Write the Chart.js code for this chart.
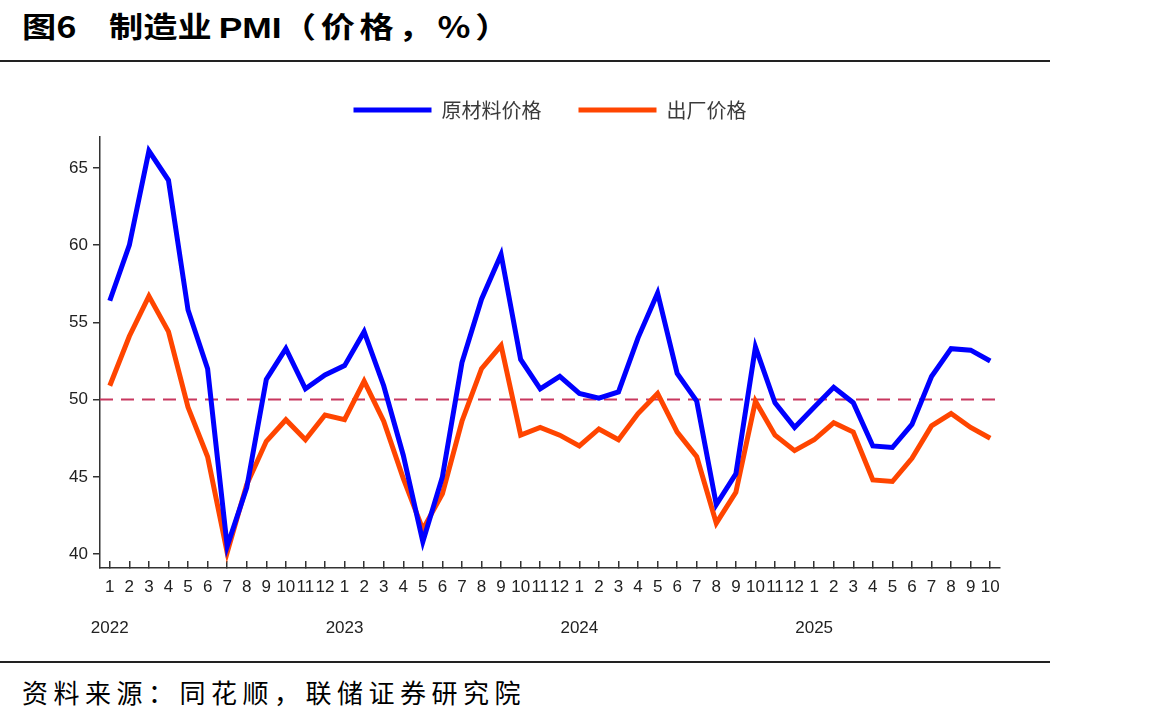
<!DOCTYPE html>
<html>
<head>
<meta charset="utf-8">
<script src="https://cdn.jsdelivr.net/npm/chart.js@4.4.0/dist/chart.umd.min.js"></script>
<style>
  body { margin: 0; background: #fff; width: 1170px; height: 724px; position: relative; overflow: hidden; font-family: "Noto Sans CJK SC", sans-serif; }
  .title { position: absolute; top: 4px; font-size: 29px; line-height: 42px; font-weight: bold; color: #000; white-space: pre; transform: scaleX(1.18); transform-origin: left center; }
  .title .sp { letter-spacing: 4px; }
  .title .pmi { font-family: "Liberation Sans", Arial, sans-serif; font-size: 30px; margin-left: 6px; }
  .rule { position: absolute; left: 0; width: 1050px; height: 2px; background: #222; }
  #src { position: absolute; left: 22px; top: 673px; font-size: 26px; letter-spacing: 5.5px; color: #000; }
  #wrap { position: absolute; left: 0; top: 63px; width: 1050px; height: 598px; }
</style>
</head>
<body>
<div class="title" style="left:22px">图6</div>
<div class="title" style="left:109px"><span>制造业</span><span class="pmi">PMI</span><span class="sp">（价格，%）</span></div>
<div class="rule" style="top:60px"></div>
<div id="wrap"><canvas id="pmiChart"></canvas></div>
<div class="rule" style="top:661px"></div>
<div id="src">资料来源：同花顺，联储证券研究院</div>
<script>
//data
const monthTicks = [
  '1','2','3','4','5','6','7','8','9','10','11','12',
  '1','2','3','4','5','6','7','8','9','10','11','12',
  '1','2','3','4','5','6','7','8','9','10','11','12',
  '1','2','3','4','5','6','7','8','9','10'
];
const yearTicks = ['2022', '2023', '2024', '2025'];
const rawMaterial = [
  56.4, 60.0, 66.1, 64.2, 55.8, 52.0, 40.5, 44.3, 51.3, 53.3, 50.7, 51.6,
  52.2, 54.4, 50.9, 46.4, 40.8, 45.0, 52.4, 56.5, 59.4, 52.6, 50.7, 51.5,
  50.4, 50.1, 50.5, 54.0, 56.9, 51.7, 49.9, 43.2, 45.2, 53.4, 49.8, 48.2,
  49.5, 50.8, 49.8, 47.0, 46.9, 48.4, 51.5, 53.3, 53.2, 52.5
];
const outputPrice = [
  50.9, 54.1, 56.7, 54.4, 49.5, 46.3, 40.1, 44.5, 47.3, 48.7, 47.4, 49.0,
  48.7, 51.2, 48.6, 44.9, 41.6, 43.9, 48.6, 52.0, 53.5, 47.7, 48.2, 47.7,
  47.0, 48.1, 47.4, 49.1, 50.4, 47.9, 46.3, 42.0, 44.0, 49.9, 47.7, 46.7,
  47.4, 48.5, 47.9, 44.8, 44.7, 46.2, 48.3, 49.1, 48.2, 47.5
];
const yTicks = [40, 45, 50, 55, 60, 65];
const refLine = 50;

//colors
var blue = '#0000ff';
var orange = '#ff4500';
var axisGrey = '#333333';

// month on first line, year two lines below under each January
let yearIdx = 0;
const labels = monthTicks.map(function (m) {
  if (m === '1') return ['1', '', yearTicks[yearIdx++]];
  return [m];
});

const legendHeight = {
  id: 'legendHeight',
  beforeInit(chart) {
    const fit = chart.legend.fit;
    chart.legend.fit = function () {
      fit.bind(chart.legend)();
      this.height = 74;
    };
  }
};

const dashLine = {
  id: 'dashLine',
  beforeDatasetsDraw(chart) {
    const ctx = chart.ctx, area = chart.chartArea;
    const y = chart.scales.y.getPixelForValue(refLine);
    ctx.save();
    ctx.strokeStyle = '#c8375f';
    ctx.lineWidth = 2;
    ctx.setLineDash([13, 8]);
    ctx.beginPath();
    ctx.moveTo(area.left, y);
    ctx.lineTo(area.right + 3, y);
    ctx.stroke();
    ctx.restore();
  }
};

new Chart(document.getElementById('pmiChart'), {
  type: 'line',
  data: {
    labels: labels,
    datasets: [{
      label: '原材料价格',
      data: rawMaterial,
      borderColor: blue,
      backgroundColor: blue,
      borderWidth: 5,
      pointRadius: 0,
      tension: 0
    }, {
      label: '出厂价格',
      data: outputPrice,
      borderColor: orange,
      backgroundColor: orange,
      borderWidth: 5,
      pointRadius: 0,
      tension: 0
    }]
  },
  options: {
    responsive: true,
    maintainAspectRatio: false,
    animation: false,
    layout: { padding: { left: 0, right: 50, top: 0, bottom: 0 } },
    plugins: {
      tooltip: { enabled: false },
      legend: {
        position: 'top',
        fullSize: false,
        labels: {
          usePointStyle: true,
          pointStyle: 'line',
          pointStyleWidth: 78,
          boxHeight: 20,
          padding: 37,
          color: '#3a3a3a',
          font: { family: '"Noto Sans CJK SC"', size: 20 }
        }
      }
    },
    scales: {
      x: {
        offset: true,
        grid: { drawOnChartArea: false, tickLength: -7, color: axisGrey, lineWidth: 1.5 },
        border: { color: axisGrey, width: 1.5 },
        ticks: {
          autoSkip: false, maxRotation: 0, minRotation: 0, padding: 16,
          color: '#222',
          font: { family: '"Liberation Sans", Arial', size: 17, lineHeight: 1.2 }
        },
        afterFit(scale) { scale.height = 93; }
      },
      y: {
        min: 39.1,
        max: 67,
        afterBuildTicks(axis) { axis.ticks = yTicks.map(v => ({ value: v })); },
        grid: { drawOnChartArea: false, tickLength: 7, color: axisGrey, lineWidth: 1.5 },
        border: { color: axisGrey, width: 1.5 },
        ticks: {
          padding: 5, color: '#222',
          font: { family: '"Liberation Sans", Arial', size: 17 }
        },
        afterFit(scale) { scale.width = 100; }
      }
    }
  },
  plugins: [legendHeight, dashLine]
});
</script>
</body>
</html>
